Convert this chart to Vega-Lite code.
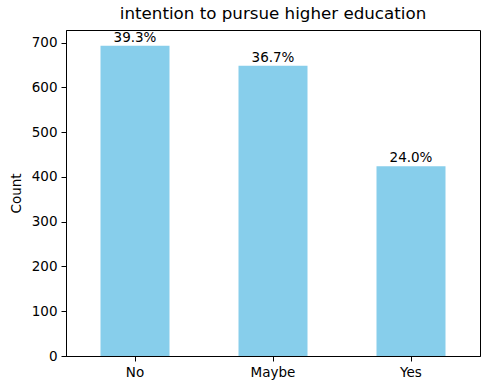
{
  "$schema": "https://vega.github.io/schema/vega-lite/v6.json",
  "autosize": {"type": "none"},
  "width": 414,
  "height": 326,
  "padding": {"left": 66, "top": 30, "right": 10, "bottom": 34},
  "background": "white",
  "title": {"text": "intention to pursue higher education", "font": "DejaVu Sans", "fontSize": 16.7, "fontWeight": "normal", "color": "black", "anchor": "middle", "offset": 7},
  "config": {
    "view": {"stroke": "black", "strokeWidth": 1},
    "axis": {"labelFont": "DejaVu Sans", "labelFontSize": 13.5, "labelColor": "black", "titleFont": "DejaVu Sans", "titleFontSize": 13.5, "titleFontWeight": "normal", "titleColor": "black", "domainColor": "black", "tickColor": "black", "tickSize": 5, "grid": false, "labelPadding": 4}
  },
  "data": {"values": [
    {"category": "No", "count": 693, "pct": "39.3%"},
    {"category": "Maybe", "count": 648, "pct": "36.7%"},
    {"category": "Yes", "count": 424, "pct": "24.0%"}
  ]},
  "encoding": {
    "x": {"field": "category", "type": "nominal", "sort": null, "scale": {"paddingInner": 0.5, "paddingOuter": 0.25}, "axis": {"title": null, "labelAngle": 0}},
    "y": {"field": "count", "type": "quantitative", "scale": {"domain": [0, 728], "nice": false}, "axis": {"title": "Count", "values": [0, 100, 200, 300, 400, 500, 600, 700], "titlePadding": 8}}
  },
  "layer": [
    {"mark": {"type": "bar", "color": "#87CEEB"}},
    {"mark": {"type": "text", "baseline": "bottom", "dy": -1, "font": "DejaVu Sans", "fontSize": 13.5, "color": "black"}, "encoding": {"text": {"field": "pct"}}}
  ]
}
